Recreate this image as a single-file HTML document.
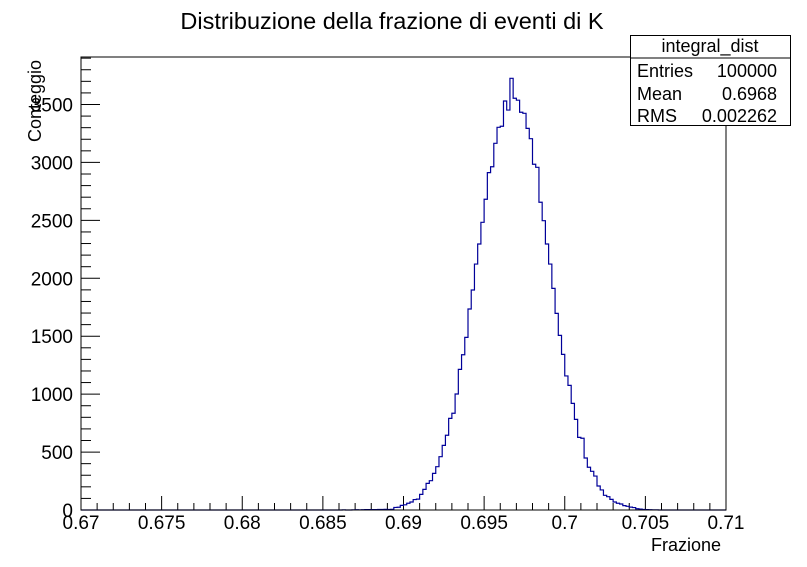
<!DOCTYPE html>
<html><head><meta charset="utf-8"><style>
body{margin:0;background:#fff}
svg{display:block;font-family:"Liberation Sans",Arial,sans-serif}
</style></head><body>
<svg id="c" width="807" height="567">
<rect x="0" y="0" width="807" height="567" fill="#fff"/>
<text x="392" y="29" style="font-size:23.5px" text-anchor="middle">Distribuzione della frazione di eventi di K</text>
<g id="axes"></g>
<path id="hist" fill="none" stroke="#000099" stroke-width="1.2"/>
<rect x="81" y="57" width="645" height="453" fill="none" stroke="#000" stroke-width="1"/>
<text x="721" y="551" style="font-size:18px" text-anchor="end">Frazione</text>
<text transform="translate(41,142) rotate(-90)" style="font-size:18px">Conteggio</text>
<g>
<rect x="630.5" y="35.5" width="160" height="90" fill="#fff" stroke="#000" stroke-width="1"/>
<line x1="630.5" y1="58" x2="790.5" y2="58" stroke="#000"/>
<text x="710" y="52" style="font-size:18px" text-anchor="middle">integral_dist</text>
<text x="637" y="77" style="font-size:18px">Entries</text>
<text x="777" y="77" style="font-size:18px" text-anchor="end">100000</text>
<text x="637" y="100" style="font-size:18px">Mean</text>
<text x="777" y="100" style="font-size:18px" text-anchor="end">0.6968</text>
<text x="637" y="122" style="font-size:18px">RMS</text>
<text x="777" y="122" style="font-size:18px" text-anchor="end">0.002262</text>
</g>
</svg>
<script>
const xMin = 0.67, xMax = 0.71, nBins = 200;
const binStart = 80;
const counts = [0,1,0,0,1,2,1,2,3,3,4,4,5,5,6,5,6,22,24,40,45,58,69,90,94,135,178,230,253,316,374,460,558,645,791,835,1001,1214,1340,1490,1735,1899,2123,2296,2483,2682,2912,2963,3165,3303,3312,3530,3452,3726,3554,3537,3433,3424,3294,3205,2984,2958,2656,2497,2296,2123,1913,1697,1507,1343,1157,1076,920,782,627,619,449,369,334,293,207,173,127,115,92,69,58,52,38,32,25,21,11,8,5,4,2,1,1];
const xTicks = [0.67,0.675,0.68,0.685,0.69,0.695,0.7,0.705,0.71];
const xTickLabels = ["0.67","0.675","0.68","0.685","0.69","0.695","0.7","0.705","0.71"];
const yTicks = [0,500,1000,1500,2000,2500,3000,3500];
const yMax = 3910;

const L=81,R=726,T=57,B=510;
const sx=v=>L+(v-xMin)/(xMax-xMin)*(R-L);
const sy=v=>B-v/yMax*(B-T);
const NS="http://www.w3.org/2000/svg";
const ax=document.getElementById('axes');
function mk(tag,attrs){const e=document.createElementNS(NS,tag);for(const k in attrs)e.setAttribute(k,attrs[k]);return e;}
for(let i=0;i<=40;i++){
  const v=xMin+i*0.001;const x=sx(v);const major=i%5===0;
  const t=mk('line',{x1:x,x2:x,y1:B,y2:B-(major?14:7),stroke:'#000'});
  
  
  ax.appendChild(t);
}
xTicks.forEach((v,i)=>{
  const t=mk('text',{x:sx(v),y:529,'text-anchor':'middle',style:'font-size:19px'});
  t.textContent=xTickLabels[i];
  
  
  ax.appendChild(t);
});
for(let v=0;v<=yMax;v+=100){
  const y=sy(v);const major=v%500===0;
  const t=mk('line',{x1:L,x2:L+(major?19:10),y1:y,y2:y,stroke:'#000'});
  
  
  ax.appendChild(t);
}
yTicks.forEach(v=>{
  const t=mk('text',{x:73,y:sy(v)+7,'text-anchor':'end',style:'font-size:19px'});
  t.textContent=String(v);
  
  
  ax.appendChild(t);
});
const bw=(xMax-xMin)/nBins;
let d='M'+L+','+B;
for(let i=0;i<nBins;i++){
  const j=i-binStart;const c=(j>=0&&j<counts.length)?counts[j]:0;
  const x0=sx(xMin+i*bw),x1=sx(xMin+(i+1)*bw),y=sy(c);
  d+=' L'+x0.toFixed(2)+','+y.toFixed(2)+' L'+x1.toFixed(2)+','+y.toFixed(2);
}
document.getElementById('hist').setAttribute('d',d);
</script>
</body></html>
